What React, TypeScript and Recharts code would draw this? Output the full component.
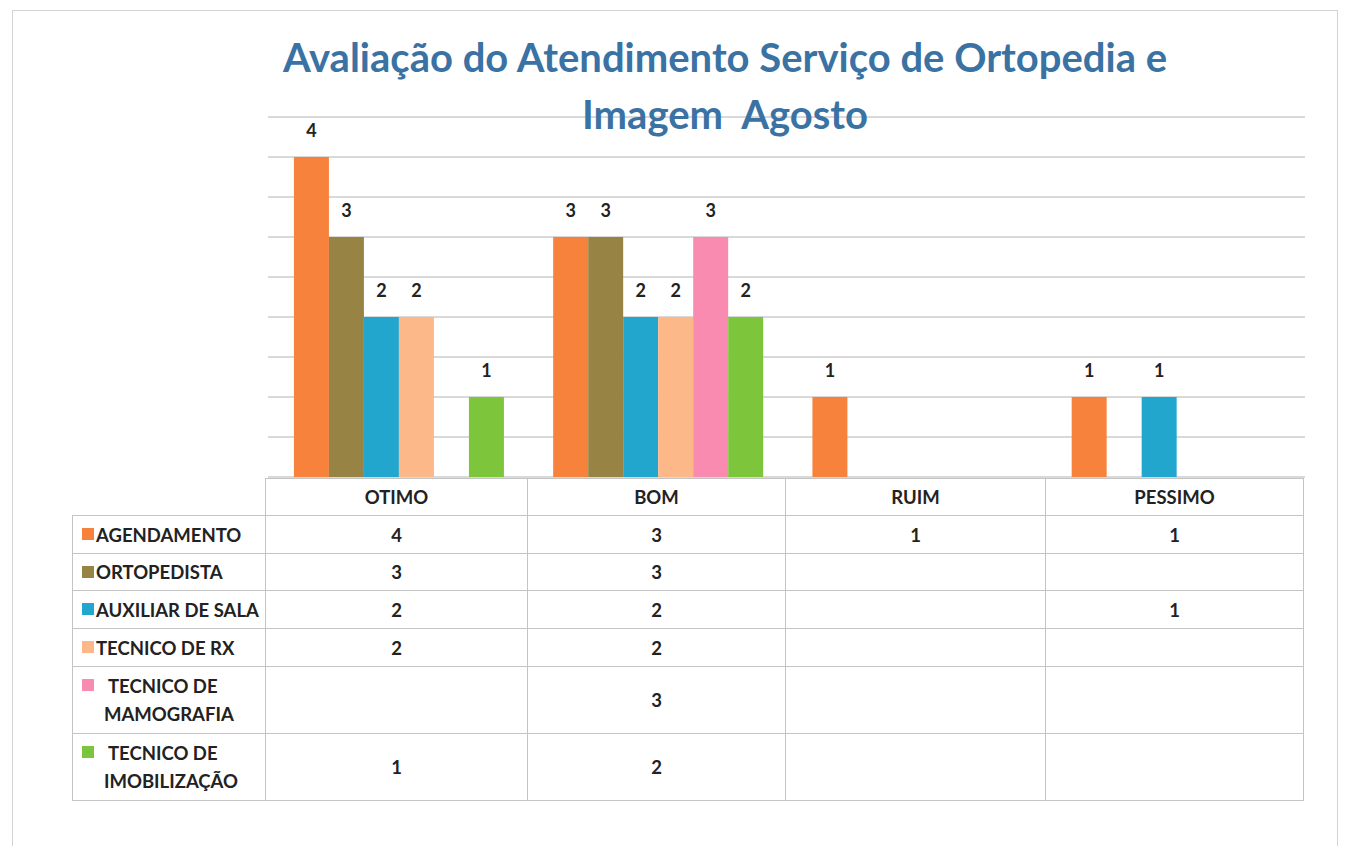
import { BarChart, Bar, XAxis, YAxis, CartesianGrid, LabelList } from "recharts";

const categories = ["OTIMO", "BOM", "RUIM", "PESSIMO"];
const seriesNames = [
  "AGENDAMENTO",
  "ORTOPEDISTA",
  "AUXILIAR DE SALA",
  "TECNICO DE RX",
  "TECNICO DE MAMOGRAFIA",
  "TECNICO DE IMOBILIZAÇÃO",
];
const agendamento = [4, 3, 1, 1];
const ortopedista = [3, 3, null, null];
const auxiliarSala = [2, 2, null, 1];
const tecnicoRx = [2, 2, null, null];
const tecnicoMamografia = [null, 3, null, null];
const tecnicoImobilizacao = [1, 2, null, null];
const yTicks = [0, 0.5, 1, 1.5, 2, 2.5, 3, 3.5, 4, 4.5];
const titleLines = ["Avaliação do Atendimento Serviço de Ortopedia e", "Imagem  Agosto"];

const seriesValues = [
  agendamento,
  ortopedista,
  auxiliarSala,
  tecnicoRx,
  tecnicoMamografia,
  tecnicoImobilizacao,
];
const colors = ["#F7823C", "#978444", "#23A6CE", "#FDB88A", "#F98AB0", "#7DC63C"];
const keys = ["s0", "s1", "s2", "s3", "s4", "s5"];

const data = categories.map((cat, i) => {
  const row: Record<string, string | number | null> = { name: cat };
  seriesValues.forEach((vals, j) => {
    row[keys[j]] = vals[i];
  });
  return row;
});

const font = "Lato, 'Open Sans', sans-serif";
const rowHeights = [38, 37, 38, 38, 67, 67];
const colWidths = [193, 262, 258, 260, 258];
const border = "1px solid #c4c4c4";

const App = () => {
  return (
    <div style={{ position: "relative", width: 1335, height: 838, fontFamily: font }}>
      <div
        style={{
          position: "absolute",
          left: 4,
          top: 2,
          width: 1326,
          height: 840,
          border: "1px solid #d4d4d4",
          boxSizing: "border-box",
        }}
      />
      <BarChart
        width={1335}
        height={480}
        data={data}
        margin={{ top: 109, right: 38, left: 260, bottom: 11 }}
        barCategoryGap="10%"
        barGap={0}
        style={{ position: "absolute", left: 0, top: 0 }}
      >
        <CartesianGrid vertical={false} stroke="#cccccc" strokeWidth={1.5} />
        <XAxis dataKey="name" hide />
        <YAxis hide domain={[0, 4.5]} ticks={yTicks} />
        {keys.map((k, j) => (
          <Bar key={k} dataKey={k} name={seriesNames[j]} fill={colors[j]} isAnimationActive={false}>
            <LabelList
              dataKey={k}
              position="top"
              offset={20}
              fill="#222"
              fontSize={18}
              fontWeight={700}
              fontFamily={font}
            />
          </Bar>
        ))}
      </BarChart>
      {titleLines.map((line, i) => (
        <div
          key={i}
          style={{
            position: "absolute",
            left: 717,
            top: 24 + i * 57,
            transform: "translateX(-50%)",
            color: "#3A72A4",
            fontWeight: 700,
            fontSize: 40,
            lineHeight: "50px",
            whiteSpace: "pre",
          }}
        >
          {line}
        </div>
      ))}
      <table
        style={{
          position: "absolute",
          left: 64,
          top: 470,
          borderCollapse: "collapse",
          tableLayout: "fixed",
          fontSize: 18.5,
          fontWeight: 700,
          color: "#222",
        }}
      >
        <colgroup>
          {colWidths.map((w, i) => (
            <col key={i} style={{ width: w }} />
          ))}
        </colgroup>
        <tbody>
          <tr style={{ height: 37 }}>
            <td style={{ border: "none" }} />
            {categories.map((c) => (
              <td key={c} style={{ border, textAlign: "center", padding: 0 }}>
                {c}
              </td>
            ))}
          </tr>
          {seriesNames.map((name, j) => {
            const tall = rowHeights[j] > 40;
            return (
              <tr key={name} style={{ height: rowHeights[j] }}>
                <td
                  style={{
                    border,
                    padding: tall ? "0 2px 0 31px" : "0 2px 0 23px",
                    textIndent: tall ? 4 : 0,
                    position: "relative",
                    lineHeight: "28px",
                    whiteSpace: tall ? "normal" : "nowrap",
                  }}
                >
                  <span
                    style={{
                      position: "absolute",
                      left: 9,
                      top: 12,
                      width: 12,
                      height: 12,
                      background: colors[j],
                    }}
                  />
                  {name}
                </td>
                {seriesValues[j].map((v, i) => (
                  <td key={i} style={{ border, textAlign: "center", padding: 0 }}>
                    {v ?? ""}
                  </td>
                ))}
              </tr>
            );
          })}
        </tbody>
      </table>
    </div>
  );
};

export default App;
